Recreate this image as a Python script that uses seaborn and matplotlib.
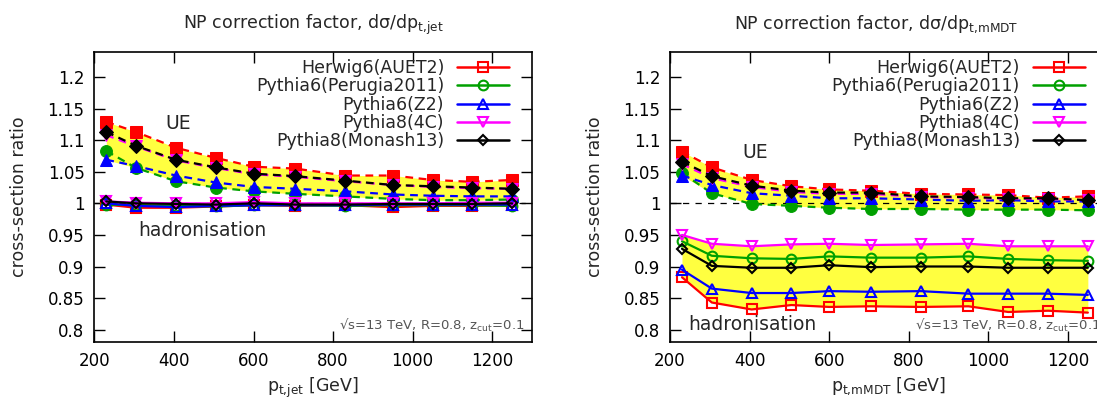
import numpy as np
import pandas as pd
import seaborn as sns
import matplotlib
matplotlib.use('Agg')
from matplotlib import pyplot as plt
from matplotlib.lines import Line2D
from matplotlib.ticker import FuncFormatter, MultipleLocator

# bin centres in pt [GeV]
pt = [230, 305, 405, 505, 600, 705, 830, 950, 1050, 1150, 1250]

generators = ['Herwig6(AUET2)', 'Pythia6(Perugia2011)', 'Pythia6(Z2)', 'Pythia8(4C)', 'Pythia8(Monash13)']

# pt,jet : UE ratio
herwig_ue_jet = [1.129, 1.113, 1.088, 1.072, 1.058, 1.055, 1.044, 1.044, 1.037, 1.034, 1.037]
perugia_ue_jet = [1.083, 1.056, 1.035, 1.025, 1.019, 1.015, 1.011, 1.007, 1.005, 1.005, 1.006]
z2_ue_jet = [1.069, 1.059, 1.044, 1.033, 1.026, 1.023, 1.019, 1.014, 1.012, 1.011, 1.011]
p8_4c_ue_jet = [1.108, 1.090, 1.068, 1.056, 1.046, 1.042, 1.035, 1.029, 1.026, 1.024, 1.023]
monash_ue_jet = [1.113, 1.091, 1.069, 1.057, 1.047, 1.043, 1.036, 1.029, 1.027, 1.025, 1.023]

# pt,jet : hadronisation ratio
herwig_had_jet = [0.998, 0.993, 0.993, 0.995, 0.997, 0.996, 0.997, 0.994, 0.996, 0.996, 0.997]
perugia_had_jet = [0.998, 0.997, 0.996, 0.995, 0.997, 0.997, 0.996, 0.997, 0.997, 0.997, 0.996]
z2_had_jet = [1.000, 0.996, 0.994, 0.996, 0.997, 0.997, 0.997, 0.998, 0.998, 0.998, 0.998]
p8_4c_had_jet = [1.003, 1.001, 1.000, 1.000, 1.002, 1.000, 1.000, 1.000, 1.000, 1.001, 1.001]
monash_had_jet = [1.003, 1.000, 0.999, 0.998, 1.000, 0.998, 0.998, 0.999, 0.999, 0.999, 1.000]

# pt,mMDT : UE ratio
herwig_ue_mmdt = [1.082, 1.057, 1.037, 1.027, 1.022, 1.020, 1.015, 1.014, 1.013, 1.009, 1.011]
perugia_ue_mmdt = [1.048, 1.016, 0.999, 0.996, 0.993, 0.991, 0.991, 0.990, 0.990, 0.990, 0.989]
z2_ue_mmdt = [1.044, 1.029, 1.016, 1.012, 1.008, 1.008, 1.006, 1.004, 1.005, 1.003, 1.003]
p8_4c_ue_mmdt = [1.062, 1.040, 1.026, 1.018, 1.015, 1.015, 1.010, 1.009, 1.007, 1.007, 1.005]
monash_ue_mmdt = [1.066, 1.043, 1.028, 1.020, 1.017, 1.017, 1.011, 1.010, 1.008, 1.008, 1.005]

# pt,mMDT : hadronisation ratio
herwig_had_mmdt = [0.883, 0.843, 0.832, 0.839, 0.836, 0.837, 0.836, 0.837, 0.828, 0.830, 0.827]
perugia_had_mmdt = [0.940, 0.917, 0.913, 0.912, 0.916, 0.914, 0.914, 0.916, 0.912, 0.910, 0.909]
z2_had_mmdt = [0.895, 0.865, 0.858, 0.858, 0.861, 0.860, 0.861, 0.857, 0.857, 0.857, 0.855]
p8_4c_had_mmdt = [0.950, 0.936, 0.932, 0.935, 0.936, 0.934, 0.935, 0.936, 0.932, 0.932, 0.932]
monash_had_mmdt = [0.928, 0.901, 0.898, 0.898, 0.902, 0.899, 0.900, 0.900, 0.898, 0.898, 0.898]

colors = ['#ff0000', '#00a000', '#0000ff', '#ff00ff', '#000000']
markers = ['s', 'o', '^', 'v', 'D']
msizes = [8.5, 8.5, 9, 9, 7]
band_color = '#ffff40'

sns.set_theme(style='ticks')
plt.rcParams['font.family'] = ['DejaVu Sans']
plt.rcParams['mathtext.fontset'] = 'dejavusans'

fig = plt.figure(figsize=(10.97, 4.05), dpi=100)
ax_jet = fig.add_axes([0.0860, 0.1548, 0.3990, 0.7175])
ax_mmdt = fig.add_axes([0.6108, 0.1548, 0.3990, 0.7175])


def draw_panel(ax, ue_list, had_list, title, title_x, xlabel, ue_pos, had_pos):
    ue = np.array(ue_list)
    had = np.array(had_list)

    ax.fill_between(pt, ue.min(axis=0), ue.max(axis=0), color=band_color, lw=0, zorder=1)
    ax.fill_between(pt, had.min(axis=0), had.max(axis=0), color=band_color, lw=0, zorder=1)
    ax.axhline(1.0, color='black', lw=0.9, ls=(0, (5, 5)), zorder=1.5)

    for i in range(len(generators)):
        df_ue = pd.DataFrame({'pt': pt, 'ratio': ue[i]})
        sns.lineplot(data=df_ue, x='pt', y='ratio', ax=ax, color=colors[i],
                     marker=markers[i], markersize=msizes[i], markeredgecolor=colors[i],
                     linestyle=(0, (3.5, 2.5)), linewidth=1.6, zorder=3, legend=False)
        df_had = pd.DataFrame({'pt': pt, 'ratio': had[i]})
        sns.lineplot(data=df_had, x='pt', y='ratio', ax=ax, color=colors[i],
                     marker=markers[i], markersize=msizes[i] - 1.5, markerfacecolor='none',
                     markeredgecolor=colors[i], markeredgewidth=1.5,
                     linestyle='-', linewidth=1.6, zorder=3, legend=False)

    ax.set_xlim(200, 1300)
    ax.set_ylim(0.78, 1.24)
    ax.xaxis.set_major_locator(MultipleLocator(200))
    ax.yaxis.set_major_locator(MultipleLocator(0.05))
    ax.yaxis.set_major_formatter(FuncFormatter(lambda v, p: '%g' % round(v, 3)))
    ax.tick_params(direction='in', length=8, width=1, top=True, right=True,
                   labelsize=12, pad=7, colors='black')
    for s in ax.spines.values():
        s.set_linewidth(1.2)
        s.set_color('black')

    ax.set_xlabel(xlabel, fontsize=12.5, labelpad=4)
    ax.set_ylabel('cross-section ratio', fontsize=12.5, labelpad=14)
    ax.set_title(title, fontsize=12.5, pad=16, x=title_x)

    ax.text(ue_pos[0], ue_pos[1], 'UE', fontsize=13.5, ha='center', va='center')
    ax.text(had_pos[0], had_pos[1], 'hadronisation', fontsize=13.5, ha='left', va='center')
    ax.text(1282, 0.806, '√s=13 TeV, R=0.8, z$_\\mathregular{cut}$=0.1', fontsize=9.5,
            color='#555555', ha='right', va='center')

    handles = [Line2D([0], [0], color=colors[i], marker=markers[i], markersize=msizes[i] - 1.5,
                      markerfacecolor='none', markeredgewidth=1.5, linewidth=1.8)
               for i in range(len(generators))]
    ax.legend(handles, generators, loc='upper right', bbox_to_anchor=(0.948, 0.975),
              frameon=False, markerfirst=False, fontsize=12.5, labelspacing=0.02,
              handlelength=3.0, handletextpad=0.75, borderpad=0, borderaxespad=0)


draw_panel(ax_jet,
           [herwig_ue_jet, perugia_ue_jet, z2_ue_jet, p8_4c_ue_jet, monash_ue_jet],
           [herwig_had_jet, perugia_had_jet, z2_had_jet, p8_4c_had_jet, monash_had_jet],
           'NP correction factor, dσ/dp$_\\mathregular{t{,}jet}$', 0.5,
           'p$_\\mathregular{t{,}jet}$ [GeV]', (410, 1.127), (310, 0.957))

draw_panel(ax_mmdt,
           [herwig_ue_mmdt, perugia_ue_mmdt, z2_ue_mmdt, p8_4c_ue_mmdt, monash_ue_mmdt],
           [herwig_had_mmdt, perugia_had_mmdt, z2_had_mmdt, p8_4c_had_mmdt, monash_had_mmdt],
           'NP correction factor, dσ/dp$_\\mathregular{t{,}mMDT}$', 0.47,
           'p$_\\mathregular{t{,}mMDT}$ [GeV]', (413, 1.08), (245, 0.808))

fig.savefig('out.png', dpi=100)
